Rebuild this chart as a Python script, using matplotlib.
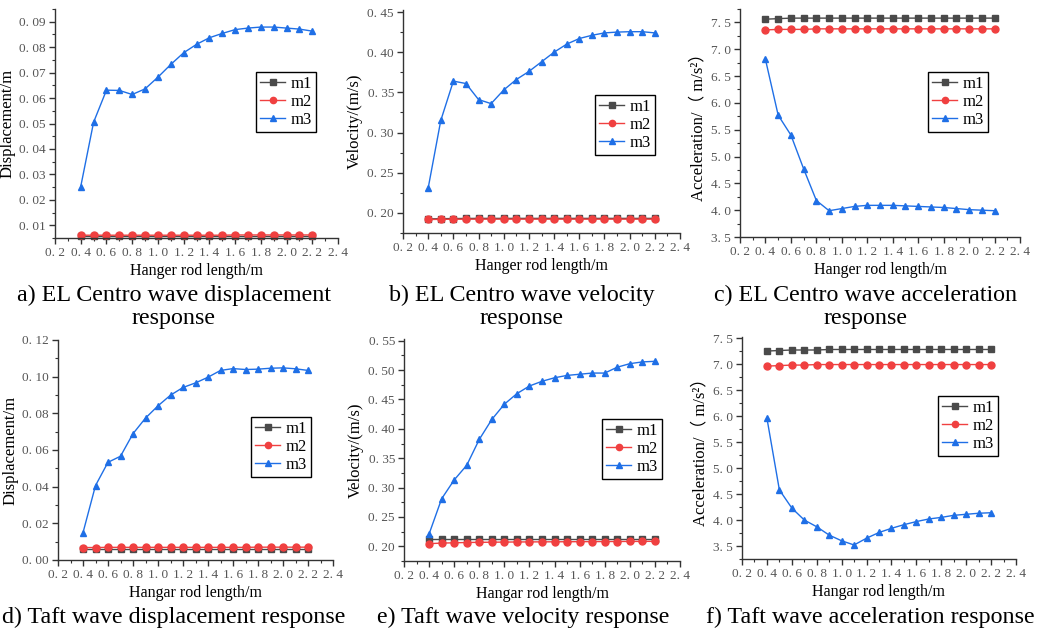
import matplotlib
matplotlib.use("Agg")
import matplotlib.pyplot as plt
from matplotlib.ticker import MultipleLocator, FuncFormatter

plt.rcParams['font.family'] = ['Liberation Serif', 'Noto Sans CJK SC', 'DejaVu Serif']

# hanger rod length (m)
rod_len = [0.4, 0.5, 0.6, 0.7, 0.8, 0.9, 1.0, 1.1, 1.2, 1.3, 1.4, 1.5, 1.6, 1.7, 1.8, 1.9, 2.0, 2.1, 2.2]

# a) EL Centro displacement
el_disp_m1 = [0.0057, 0.0057, 0.0057, 0.0057, 0.0057, 0.0057, 0.0057, 0.0057, 0.0057, 0.0057,
              0.0057, 0.0057, 0.0057, 0.0057, 0.0057, 0.0057, 0.0057, 0.0057, 0.0057]
el_disp_m2 = [0.0061, 0.0061, 0.0061, 0.0061, 0.0061, 0.0061, 0.0061, 0.0061, 0.0061, 0.0061,
              0.0061, 0.0061, 0.0062, 0.0062, 0.0062, 0.0062, 0.0062, 0.0062, 0.0062]
el_disp_m3 = [0.0252, 0.0505, 0.0631, 0.0630, 0.0614, 0.0636, 0.0682, 0.0732, 0.0778, 0.0811,
              0.0837, 0.0854, 0.0869, 0.0875, 0.0879, 0.0879, 0.0875, 0.0871, 0.0863]

# b) EL Centro velocity
el_vel_m1 = [0.1925, 0.1928, 0.1930, 0.1931, 0.1932, 0.1932, 0.1932, 0.1932, 0.1932, 0.1932,
             0.1932, 0.1932, 0.1932, 0.1932, 0.1932, 0.1932, 0.1932, 0.1932, 0.1932]
el_vel_m2 = [0.1918, 0.1920, 0.1921, 0.1922, 0.1922, 0.1922, 0.1922, 0.1922, 0.1922, 0.1922,
             0.1922, 0.1922, 0.1922, 0.1922, 0.1922, 0.1922, 0.1922, 0.1922, 0.1922]
el_vel_m3 = [0.231, 0.315, 0.364, 0.361, 0.341, 0.336, 0.353, 0.366, 0.376, 0.388,
             0.400, 0.410, 0.417, 0.421, 0.424, 0.425, 0.4255, 0.4255, 0.424]

# c) EL Centro acceleration
el_acc_m1 = [7.56, 7.57, 7.58, 7.58, 7.58, 7.58, 7.58, 7.58, 7.58, 7.58,
             7.58, 7.58, 7.58, 7.58, 7.58, 7.58, 7.58, 7.58, 7.58]
el_acc_m2 = [7.36, 7.37, 7.37, 7.37, 7.38, 7.38, 7.38, 7.38, 7.38, 7.38,
             7.38, 7.38, 7.38, 7.38, 7.38, 7.38, 7.38, 7.38, 7.38]
el_acc_m3 = [6.81, 5.77, 5.40, 4.77, 4.18, 3.99, 4.03, 4.07, 4.09, 4.09,
             4.09, 4.08, 4.07, 4.06, 4.05, 4.03, 4.01, 4.00, 3.99]

# d) Taft displacement
taft_disp_m1 = [0.0058, 0.0058, 0.0058, 0.0058, 0.0058, 0.0058, 0.0058, 0.0058, 0.0058, 0.0058,
                0.0058, 0.0058, 0.0058, 0.0058, 0.0058, 0.0058, 0.0058, 0.0058, 0.0058]
taft_disp_m2 = [0.0068, 0.0068, 0.0069, 0.0069, 0.0069, 0.0069, 0.0069, 0.0069, 0.0069, 0.0069,
                0.0069, 0.0069, 0.0069, 0.0069, 0.0070, 0.0070, 0.0070, 0.0070, 0.0070]
taft_disp_m3 = [0.0149, 0.0406, 0.0533, 0.0566, 0.0689, 0.0774, 0.0841, 0.0899, 0.0941, 0.0966,
                0.0997, 0.1034, 0.1044, 0.1039, 0.1041, 0.1046, 0.1048, 0.1043, 0.1034]

# e) Taft velocity
taft_vel_m1 = [0.213, 0.213, 0.213, 0.213, 0.213, 0.213, 0.213, 0.213, 0.213, 0.213,
               0.213, 0.213, 0.213, 0.213, 0.213, 0.213, 0.213, 0.213, 0.213]
taft_vel_m2 = [0.2045, 0.2055, 0.2060, 0.2065, 0.2068, 0.2070, 0.2072, 0.2074, 0.2075, 0.2076,
               0.2077, 0.2078, 0.2079, 0.2080, 0.2081, 0.2082, 0.2083, 0.2084, 0.2085]
taft_vel_m3 = [0.221, 0.281, 0.313, 0.338, 0.382, 0.416, 0.442, 0.460, 0.473, 0.481,
               0.487, 0.491, 0.493, 0.495, 0.495, 0.505, 0.511, 0.514, 0.515]

# f) Taft acceleration
taft_acc_m1 = [7.25, 7.26, 7.27, 7.27, 7.27, 7.28, 7.28, 7.28, 7.28, 7.28,
               7.28, 7.28, 7.28, 7.28, 7.28, 7.28, 7.28, 7.28, 7.28]
taft_acc_m2 = [6.96, 6.97, 6.98, 6.98, 6.99, 6.99, 6.99, 6.99, 6.99, 6.99,
               6.99, 6.99, 6.99, 6.99, 6.99, 6.99, 6.99, 6.99, 6.99]
taft_acc_m3 = [5.96, 4.58, 4.23, 4.00, 3.87, 3.71, 3.60, 3.52, 3.65, 3.76,
               3.84, 3.91, 3.97, 4.02, 4.05, 4.09, 4.11, 4.13, 4.14]

captions = ["a) EL Centro wave displacement\nresponse",
            "b) EL Centro wave velocity\nresponse",
            "c) EL Centro wave acceleration\nresponse",
            "d) Taft wave displacement response",
            "e) Taft wave velocity response",
            "f) Taft wave acceleration response"]

W, H = 1039, 635
fig = plt.figure(figsize=(W / 100, H / 100), dpi=100)


def px_axes(left, top, right, bottom):
    return fig.add_axes([left / W, 1 - bottom / H, (right - left) / W, (bottom - top) / H])


def spaced(nd):
    return FuncFormatter(lambda v, p: f"{v:.{nd}f}".replace('.', '. '))


# panel settings: axes box in pixels, ylim, y step, decimals, labels, legend pos (px)
panels = [
    dict(box=(55, 9, 338, 238), ylim=(0.005, 0.095), step=0.01, nd=2,
         ylabel="Displacement/m", xlabel="Hanger rod length/m",
         data=(el_disp_m1, el_disp_m2, el_disp_m3), leg=(256, 72),
         cap=(174, 307)),
    dict(box=(403, 10, 680, 233), ylim=(0.175, 0.4525), step=0.05, nd=2,
         ylabel="Velocity/(m/s)", xlabel="Hanger rod length/m",
         data=(el_vel_m1, el_vel_m2, el_vel_m3), leg=(595, 95),
         cap=(522, 307)),
    dict(box=(740, 9, 1020, 237), ylim=(3.5, 7.75), step=0.5, nd=1,
         ylabel="Acceleration/（ m/s²）", xlabel="Hanger rod length/m",
         data=(el_acc_m1, el_acc_m2, el_acc_m3), leg=(928, 72),
         cap=(866, 307)),
    dict(box=(58, 340, 333, 560), ylim=(0.0, 0.12), step=0.02, nd=2,
         ylabel="Displacement/m", xlabel="Hangar rod length/m",
         data=(taft_disp_m1, taft_disp_m2, taft_disp_m3), leg=(251, 417),
         cap=(174, 617)),
    dict(box=(404, 339, 680, 561), ylim=(0.175, 0.553), step=0.05, nd=2,
         ylabel="Velocity/(m/s)", xlabel="Hangar rod length/m",
         data=(taft_vel_m1, taft_vel_m2, taft_vel_m3), leg=(602, 419),
         cap=(523, 617)),
    dict(box=(742, 337, 1016, 559), ylim=(3.25, 7.52), step=0.5, nd=1,
         ylabel="Acceleration/（ m/s²）", xlabel="Hangar rod length/m",
         data=(taft_acc_m1, taft_acc_m2, taft_acc_m3), leg=(938, 396),
         cap=(870, 617)),
]

styles = [
    dict(color='#4a4a4a', marker='s', label='m1'),
    dict(color='#f04040', marker='o', label='m2'),
    dict(color='#1f6fe6', marker='^', label='m3'),
]

for i, p in enumerate(panels):
    ax = px_axes(*p['box'])
    for series, st in zip(p['data'], styles):
        ax.plot(rod_len, series, color=st['color'], marker=st['marker'], markersize=5,
                linewidth=1.0, label=st['label'], clip_on=False)
    ax.set_xlim(0.2, 2.4)
    ax.set_ylim(*p['ylim'])
    ax.xaxis.set_major_locator(MultipleLocator(0.2))
    ax.xaxis.set_minor_locator(MultipleLocator(0.1))
    ax.yaxis.set_major_locator(MultipleLocator(p['step']))
    ax.yaxis.set_minor_locator(MultipleLocator(p['step'] / 2))
    ax.xaxis.set_major_formatter(spaced(1))
    ax.yaxis.set_major_formatter(spaced(p['nd']))
    for s in ['top', 'right']:
        ax.spines[s].set_visible(False)
    for s in ['left', 'bottom']:
        ax.spines[s].set_color('#333333')
        ax.spines[s].set_linewidth(1.0)
    ax.tick_params(which='major', direction='out', length=4, width=1, colors='#333333',
                   labelcolor='#555555', labelsize=9.5, pad=2.5)
    ax.tick_params(which='minor', direction='out', length=2, width=0.8, colors='#333333')
    ax.set_xlabel(p['xlabel'], fontsize=11.5, labelpad=3)
    ax.set_ylabel(p['ylabel'], fontsize=12, labelpad=3)
    lx, ly = p['leg']
    ax.legend(loc='upper left', bbox_to_anchor=(lx / W, 1 - ly / H), bbox_transform=fig.transFigure,
              borderaxespad=0, fancybox=False, edgecolor='black', framealpha=1,
              fontsize=12, handlelength=1.5, handletextpad=0.3, borderpad=0.25,
              labelspacing=0.12, markerscale=0.9)
    cx, cy = p['cap']
    fig.text(cx / W, 1 - cy / H, captions[i], ha='center', va='center', fontsize=17.3,
             linespacing=1.15)

fig.savefig("out.png", dpi=100)
